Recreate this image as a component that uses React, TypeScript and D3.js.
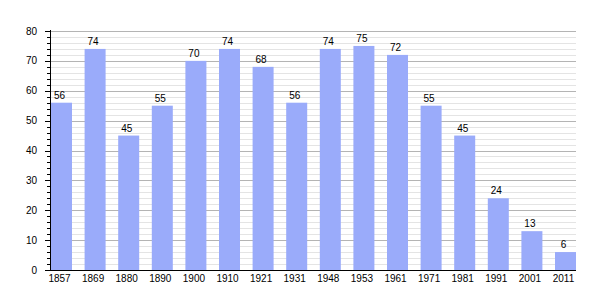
import React from "react";
import * as d3 from "d3";

const years = ["1857","1869","1880","1890","1900","1910","1921","1931","1948","1953","1961","1971","1981","1991","2001","2011"];
const values = [56,74,45,55,70,74,68,56,74,75,72,55,45,24,13,6];
const yTicks = [0,10,20,30,40,50,60,70,80];
const minorTicks = d3.range(0, 81, 2);

export default function App() {
  const W = 605, H = 300;
  const x = d3.scaleBand<string>().domain(years).range([51, 576]).paddingInner(0.375).paddingOuter(0);
  const y = d3.scaleLinear().domain([0, 80]).range([270, 31]);
  const font = "Liberation Sans, Arial, sans-serif";
  const cx = (yr: string) => (x(yr) as number) + x.bandwidth() / 2 - 2;
  return (
    <svg width={W} height={H} style={{ position: "absolute", left: 0, top: 0 }} fontFamily={font}>
      <rect width={W} height={H} fill="#fff" />
      {minorTicks.filter(t => t % 10 !== 0).map(t => (
        <line key={"m" + t} x1={50} x2={576} y1={Math.round(y(t)) + 0.5} y2={Math.round(y(t)) + 0.5} stroke="#e4e4e4" />
      ))}
      {yTicks.filter(t => t !== 0).map(t => (
        <line key={"g" + t} x1={50} x2={576} y1={Math.round(y(t)) + 0.5} y2={Math.round(y(t)) + 0.5} stroke="#b4b4b4" />
      ))}
      {years.map((yr, i) => (
        <rect key={yr} x={x(yr)} width={x.bandwidth()} y={y(values[i])} height={y(0) - y(values[i])} fill="#9aabfa" />
      ))}
      {years.map((yr, i) => (
        <text key={"v" + yr} x={cx(yr)} y={y(values[i]) - 4} textAnchor="middle" fontSize={10} fill="#000">{values[i]}</text>
      ))}
      {minorTicks.map(t => (
        <line key={"t" + t} x1={t % 10 === 0 ? 45 : 47} x2={50} y1={Math.round(y(t)) + 0.5} y2={Math.round(y(t)) + 0.5} stroke="#000" />
      ))}
      {yTicks.map(t => (
        <text key={"yl" + t} x={37} y={y(t) + 3.5} textAnchor="end" fontSize={10} fill="#000">{t}</text>
      ))}
      <line x1={50.5} x2={50.5} y1={30} y2={271} stroke="#000" />
      <line x1={50} x2={576} y1={270.5} y2={270.5} stroke="#000" />
      {years.map(yr => (
        <text key={"xl" + yr} x={cx(yr)} y={282} textAnchor="middle" fontSize={10} fill="#000">{yr}</text>
      ))}
    </svg>
  );
}
